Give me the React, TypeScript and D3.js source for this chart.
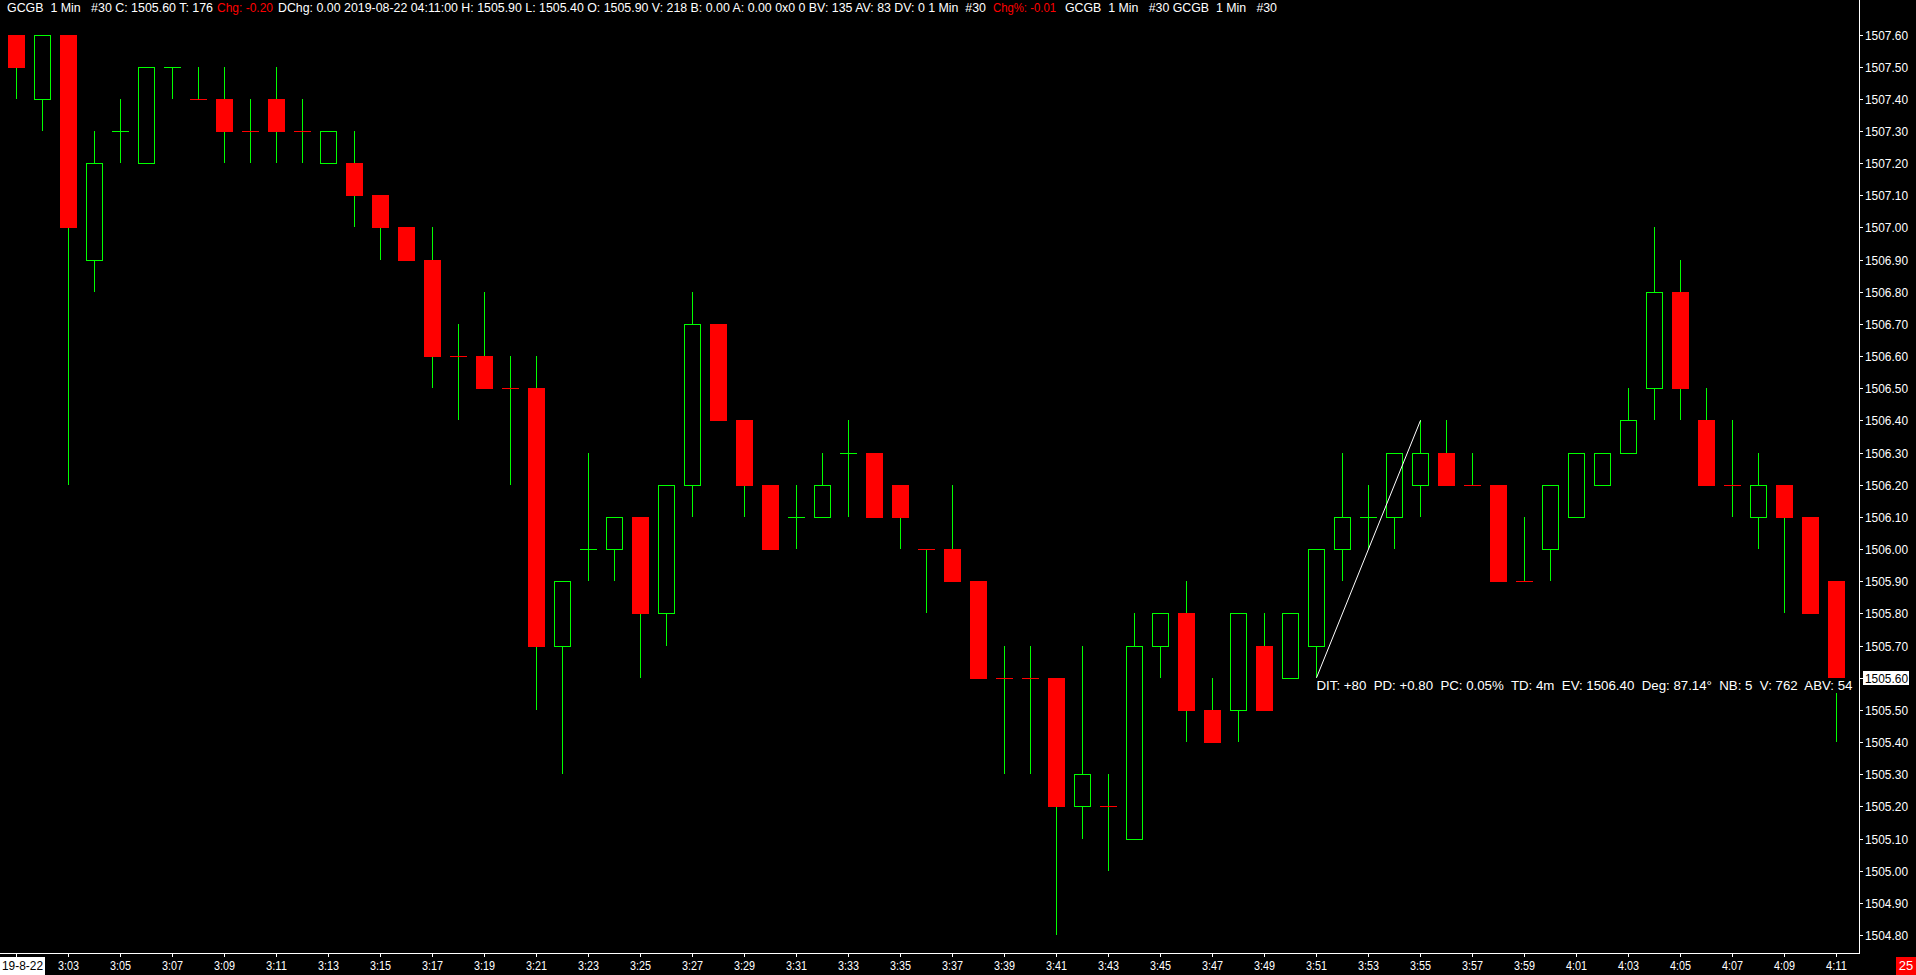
import React from 'react';
import * as d3 from 'd3';

const times = [
  '3:01','3:02','3:03','3:04','3:05','3:06','3:07','3:08','3:09','3:10',
  '3:11','3:12','3:13','3:14','3:15','3:16','3:17','3:18','3:19','3:20',
  '3:21','3:22','3:23','3:24','3:25','3:26','3:27','3:28','3:29','3:30',
  '3:31','3:32','3:33','3:34','3:35','3:36','3:37','3:38','3:39','3:40',
  '3:41','3:42','3:43','3:44','3:45','3:46','3:47','3:48','3:49','3:50',
  '3:51','3:52','3:53','3:54','3:55','3:56','3:57','3:58','3:59','4:00',
  '4:01','4:02','4:03','4:04','4:05','4:06','4:07','4:08','4:09','4:10','4:11',
];

const open = [
  1507.6,1507.4,1507.6,1506.9,1507.3,1507.2,1507.5,1507.4,1507.4,1507.3,
  1507.4,1507.3,1507.2,1507.2,1507.1,1507.0,1506.9,1506.6,1506.6,1506.5,
  1506.5,1505.7,1506.0,1506.0,1506.1,1505.8,1506.2,1506.7,1506.4,1506.2,
  1506.1,1506.1,1506.3,1506.3,1506.2,1506.0,1506.0,1505.9,1505.6,1505.6,
  1505.6,1505.2,1505.2,1505.1,1505.7,1505.8,1505.5,1505.5,1505.7,1505.6,
  1505.7,1506.0,1506.1,1506.1,1506.2,1506.3,1506.2,1506.2,1505.9,1506.0,
  1506.1,1506.2,1506.3,1506.5,1506.8,1506.4,1506.2,1506.1,1506.2,1506.1,1505.9,
];
const high = [
  1507.6,1507.6,1507.6,1507.3,1507.4,1507.5,1507.5,1507.5,1507.5,1507.4,
  1507.5,1507.4,1507.3,1507.3,1507.1,1507.0,1507.0,1506.7,1506.8,1506.6,
  1506.6,1505.9,1506.3,1506.1,1506.1,1506.2,1506.8,1506.7,1506.4,1506.2,
  1506.2,1506.3,1506.4,1506.3,1506.2,1506.0,1506.2,1505.9,1505.7,1505.7,
  1505.6,1505.7,1505.3,1505.8,1505.8,1505.9,1505.6,1505.8,1505.8,1505.8,
  1506.0,1506.3,1506.2,1506.3,1506.4,1506.4,1506.3,1506.2,1506.1,1506.2,
  1506.3,1506.3,1506.5,1507.0,1506.9,1506.5,1506.4,1506.3,1506.2,1506.1,1505.9,
];
const low = [
  1507.4,1507.3,1506.2,1506.8,1507.2,1507.2,1507.4,1507.4,1507.2,1507.2,
  1507.2,1507.2,1507.2,1507.0,1506.9,1506.9,1506.5,1506.4,1506.5,1506.2,
  1505.5,1505.3,1505.9,1505.9,1505.6,1505.7,1506.1,1506.4,1506.1,1506.0,
  1506.0,1506.1,1506.1,1506.1,1506.0,1505.8,1505.9,1505.6,1505.3,1505.3,
  1504.8,1505.1,1505.0,1505.1,1505.6,1505.4,1505.4,1505.4,1505.5,1505.6,
  1505.6,1505.9,1506.0,1506.0,1506.1,1506.2,1506.2,1505.9,1505.9,1505.9,
  1506.1,1506.2,1506.3,1506.4,1506.4,1506.2,1506.1,1506.0,1505.8,1505.8,1505.4,
];
const close = [
  1507.5,1507.6,1507.0,1507.2,1507.3,1507.5,1507.5,1507.4,1507.3,1507.3,
  1507.3,1507.3,1507.3,1507.1,1507.0,1506.9,1506.6,1506.6,1506.5,1506.5,
  1505.7,1505.9,1506.0,1506.1,1505.8,1506.2,1506.7,1506.4,1506.2,1506.0,
  1506.1,1506.2,1506.3,1506.1,1506.1,1506.0,1505.9,1505.6,1505.6,1505.6,
  1505.2,1505.3,1505.2,1505.7,1505.8,1505.5,1505.4,1505.8,1505.5,1505.8,
  1506.0,1506.1,1506.1,1506.3,1506.3,1506.2,1506.2,1505.9,1505.9,1506.2,
  1506.3,1506.3,1506.4,1506.8,1506.5,1506.2,1506.2,1506.2,1506.1,1505.8,1505.6,
];

const priceTicks = d3.range(15048, 15077).map((v) => v / 10);
const lastPrice = 1505.6;
const trendFrom = { t: '3:51', p: 1505.6 };
const trendTo = { t: '3:55', p: 1506.4 };
const dateLabel = '19-8-22';
const cornerLabel = '25';
const annotation = 'DIT: +80  PD: +0.80  PC: 0.05%  TD: 4m  EV: 1506.40  Deg: 87.14°  NB: 5  V: 762  ABV: 54';

const header = [
  { text: 'GCGB  1 Min   #30 C: 1505.60 T: 176', x0: 7, x1: 213, red: false },
  { text: 'Chg: -0.20', x0: 217, x1: 273, red: true },
  { text: 'DChg: 0.00 2019-08-22 04:11:00 H: 1505.90 L: 1505.40 O: 1505.90 V: 218 B: 0.00 A: 0.00 0x0 0 BV: 135 AV: 83 DV: 0 1 Min  #30', x0: 278, x1: 986, red: false },
  { text: 'Chg%: -0.01', x0: 993, x1: 1056, red: true },
  { text: 'GCGB  1 Min   #30 GCGB  1 Min   #30', x0: 1065, x1: 1277, red: false },
];

const GREEN = '#00ff00';
const RED = '#ff0000';
const FONT = '"Liberation Sans", Arial, sans-serif';

export default function App() {
  const W = 1916;
  const H = 975;
  const axisX = 1859.5;
  const axisY = 953.5;

  const x = d3.scalePoint<string>().domain(times).range([16.5, 1836.5]);
  const y = d3.scaleLinear().domain([1504.8, 1507.6]).range([935, 34.5]);

  const half = 8.5;

  // doji colour: direction vs. previous close, ties keep previous colour
  const up: boolean[] = [];
  times.forEach((_, i) => {
    if (close[i] > open[i]) up.push(true);
    else if (close[i] < open[i]) up.push(false);
    else if (i === 0) up.push(true);
    else if (close[i] > close[i - 1]) up.push(true);
    else if (close[i] < close[i - 1]) up.push(false);
    else up.push(up[i - 1]);
  });

  const candles = times.map((t, i) => {
    const cx = x(t)!;
    const o = open[i], c = close[i], h = high[i], l = low[i];
    const yTop = Math.round(y(Math.max(o, c)));
    const yBot = Math.round(y(Math.min(o, c)));
    const elems: React.ReactNode[] = [];
    elems.push(
      <line key="w" x1={cx} x2={cx} y1={Math.round(y(h))} y2={Math.round(y(l))} stroke={GREEN} strokeWidth={1} />
    );
    if (o === c) {
      elems.push(
        <line key="d" x1={cx - half} x2={cx + half} y1={yTop + 0.5} y2={yTop + 0.5} stroke={up[i] ? GREEN : RED} strokeWidth={1} />
      );
    } else if (c > o) {
      elems.push(
        <rect key="b" x={cx - 8} y={yTop + 0.5} width={16} height={yBot - yTop} fill="#000" stroke={GREEN} strokeWidth={1} />
      );
    } else {
      elems.push(
        <rect key="b" x={cx - half} y={yTop} width={17} height={yBot - yTop + 1} fill={RED} />
      );
    }
    return <g key={t}>{elems}</g>;
  });

  const xTickIdx = times.map((_, i) => i).filter((i) => i % 2 === 0);

  const annX = x(trendFrom.t)!;
  const annY = 690;

  return (
    <svg
      width={W}
      height={H}
      style={{ position: 'fixed', left: 0, top: 0, display: 'block', background: '#000' }}
      fontFamily={FONT}
    >
      <rect x={0} y={0} width={W} height={H} fill="#000" />
      <g shapeRendering="crispEdges">{candles}</g>

      {/* trend line */}
      <line
        x1={x(trendFrom.t)!}
        y1={y(trendFrom.p)}
        x2={x(trendTo.t)!}
        y2={y(trendTo.p)}
        stroke="#ffffff"
        strokeWidth={1}
      />

      {/* annotation */}
      <rect x={annX - 2} y={annY - 12} width={540} height={15} fill="#000" />
      <text
        x={annX}
        y={annY}
        fill="#ffffff"
        fontSize={12.5}
        textLength={536}
        lengthAdjust="spacingAndGlyphs"
        style={{ whiteSpace: 'pre' }}
      >
        {annotation}
      </text>

      {/* header */}
      {header.map((s, i) => (
        <text
          key={i}
          x={s.x0}
          y={12}
          fill={s.red ? RED : '#ffffff'}
          fontSize={12}
          textLength={s.x1 - s.x0}
          lengthAdjust="spacingAndGlyphs"
          style={{ whiteSpace: 'pre' }}
        >
          {s.text}
        </text>
      ))}

      {/* axes */}
      <g shapeRendering="crispEdges">
        <line x1={axisX} x2={axisX} y1={0} y2={axisY} stroke="#fff" strokeWidth={1} />
        <line x1={0} x2={axisX} y1={axisY} y2={axisY} stroke="#fff" strokeWidth={1} />
        {priceTicks.map((p) => (
          <line key={p} x1={axisX} x2={axisX + 3} y1={Math.round(y(p)) + 0.5} y2={Math.round(y(p)) + 0.5} stroke="#fff" />
        ))}
        {xTickIdx.map((i) => (
          <line key={i} x1={x(times[i])!} x2={x(times[i])!} y1={axisY} y2={axisY + 3} stroke="#fff" />
        ))}
      </g>

      {priceTicks.map((p) =>
        p === lastPrice ? null : (
          <text
            key={p}
            x={1865}
            y={Math.round(y(p)) + 0.5}
            dy="0.36em"
            fill="#fff"
            fontSize={13}
            textLength={43}
            lengthAdjust="spacingAndGlyphs"
          >
            {p.toFixed(2)}
          </text>
        )
      )}

      {/* last price box */}
      <rect x={1863} y={Math.round(y(lastPrice)) - 7} width={46} height={14} fill="#fff" />
      <text
        x={1865}
        y={Math.round(y(lastPrice)) + 0.5}
        dy="0.36em"
        fill="#000"
        fontSize={13}
        textLength={43}
        lengthAdjust="spacingAndGlyphs"
      >
        {lastPrice.toFixed(2)}
      </text>

      {/* time labels */}
      {xTickIdx
        .filter((i) => i > 0)
        .map((i) => (
          <text
            key={i}
            x={x(times[i])!}
            y={970}
            fill="#fff"
            fontSize={13}
            textAnchor="middle"
            textLength={21}
            lengthAdjust="spacingAndGlyphs"
          >
            {times[i]}
          </text>
        ))}

      {/* date box */}
      <rect x={0} y={957} width={45} height={18} fill="#fff" />
      <text x={2} y={970} fill="#000" fontSize={13} textLength={41} lengthAdjust="spacingAndGlyphs">
        {dateLabel}
      </text>

      {/* corner box */}
      <rect x={1896} y={957} width={20} height={18} fill={RED} />
      <text x={1906} y={970} fill="#fff" fontSize={13} textAnchor="middle">
        {cornerLabel}
      </text>
    </svg>
  );
}
